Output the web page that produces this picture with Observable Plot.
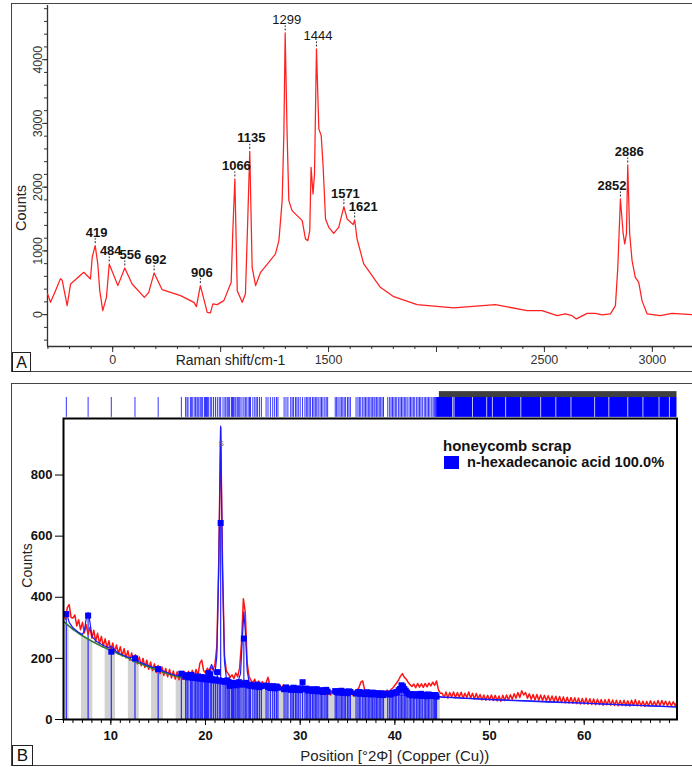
<!DOCTYPE html>
<html><head><meta charset="utf-8">
<script src="https://cdn.jsdelivr.net/npm/d3@7"></script>
<script src="https://cdn.jsdelivr.net/npm/@observablehq/plot@0.6"></script>
<style>
body{margin:0;background:#fff;font-family:"Liberation Sans",Arial,sans-serif;}
#root{position:relative;width:692px;height:767px;overflow:hidden;background:#fff;}
.panel{position:absolute;border:1.5px solid #444;box-sizing:border-box;}
.abs{position:absolute;}
.tag{position:absolute;border:1px solid #222;box-sizing:border-box;text-align:center;color:#111;background:#fff;}
.leg{position:absolute;font-weight:bold;color:#111;white-space:nowrap;line-height:1;}
</style></head>
<body><div id="root"></div>
<script>
// ---------------- Panel A : Raman spectrum ----------------
const ramanShift = [198, 212, 235, 258, 266, 289, 305, 366, 397, 405, 419, 431, 440, 454, 471, 484, 524, 556, 590, 647, 667, 692, 729, 814, 876, 888, 906, 922, 938, 953, 964, 984, 1015, 1049, 1056, 1066, 1077, 1100, 1115, 1126, 1135, 1146, 1162, 1185, 1223, 1254, 1270, 1285, 1293, 1299, 1308, 1316, 1331, 1378, 1393, 1404, 1413, 1419, 1428, 1435, 1444, 1455, 1466, 1475, 1486, 1501, 1524, 1547, 1571, 1586, 1614, 1621, 1632, 1663, 1740, 1802, 1910, 2080, 2273, 2420, 2489, 2559, 2597, 2628, 2648, 2698, 2736, 2767, 2806, 2829, 2840, 2852, 2865, 2872, 2880, 2886, 2895, 2906, 2921, 2937, 2952, 2976, 3037, 3091, 3186];
const ramanCounts = [330, 193, 376, 565, 540, 141, 481, 664, 560, 899, 1082, 795, 376, 63, 271, 795, 455, 732, 481, 271, 350, 654, 392, 298, 193, 125, 455, 246, 36, 27, 168, 157, 220, 507, 1266, 2129, 376, 193, 325, 1526, 2562, 742, 455, 664, 820, 952, 1161, 1788, 2835, 4419, 2835, 1788, 1631, 1475, 1187, 1161, 1318, 2311, 1893, 2207, 4168, 2913, 2808, 2311, 1501, 1370, 1275, 1370, 1694, 1501, 1412, 1485, 1187, 795, 428, 282, 157, 105, 157, 63, 63, -16, 11, -16, -67, 20, 20, -5, 11, 141, 742, 1815, 1266, 1109, 1266, 2348, 1266, 847, 585, 507, 220, 11, -16, 20, 0];
const ramanPeakShift = [419, 484, 556, 692, 906, 1066, 1135, 1299, 1444, 1571, 1621, 2852, 2886];
const ramanPeakCounts = [1082, 795, 732, 654, 455, 2129, 2562, 4419, 4168, 1694, 1485, 1815, 2348];
const ramanPeakLabels = ["419", "484", "556", "692", "906", "1066", "1135", "1299", "1444", "1571", "1621", "2852", "2886"];
const ramanXTicks = [500, 1500, 2500, 3000];
const ramanXTickLabels = ["0", "1500", "2500", "3000"];
const ramanYTicks = [0, 1000, 2000, 3000, 4000];
const ramanXTitle = "Raman shift/cm-1";
const ramanYTitle = "Counts";

// ---------------- Panel B : XRD pattern ----------------
const scanStart = 5, scanStep = 0.2;
const observedCounts = [
352,328,366,376,334, 332,342,306,326,294, 318,284,310,278,302, 266,292,256,282,248,
272,240,264,234,258, 224,250,220,244,214, 238,208,232,202,225, 194,218,190,212,182,
205,176,200,170,194, 164,188,160,182,154, 177,150,172,144,167, 140,164,136,159,132,
156,130,153,132,156, 134,158,135,161,137, 164,144,184,194,160, 152,168,156,170,162,
182,240,520,955,500, 210,158,150,138,146, 134,152,140,168,250, 395,350,185,140,128,
120,132,114,126,110, 124,108,120,138,112, 118,104,116,102,114, 100,113,98,110,96,
108,94,106,92,104, 96,110,92,104,88, 102,86,99,84,97, 88,100,84,96,82,
94,80,92,86,97, 82,94,80,91,78, 90,80,92,78,88, 96,104,122,126,98,
86,96,82,93,80, 92,79,90,81,94, 84,96,86,98,104, 112,120,130,142,150,
138,132,122,114,108, 116,104,118,106,117, 105,118,107,119,110, 122,112,126,98,86,
86,72,90,70,88, 74,90,71,88,73, 89,70,86,72,90, 70,86,67,85,68,
82,64,80,63,79, 64,80,62,79,61, 77,60,79,62,80, 64,81,66,84,70,
88,72,94,80,88, 70,84,66,82,64, 82,63,80,62,79, 61,78,60,77,59,
76,57,75,56,74, 55,73,54,72,53, 71,52,70,51,69, 51,70,50,68,49,
67,48,66,49,65, 47,65,48,66,47, 64,46,63,45,62, 46,63,45,61,44,
63,46,65,45,61, 44,60,43,59,44, 61,45,59,44,62, 46,62,47,60,45,
59,44,58,46,56];
const backgroundPos = [5, 5.5, 6, 6.5, 7, 7.5, 8, 8.5, 9, 9.5, 10, 10.5, 11, 11.5, 12, 12.5, 13, 13.5, 14, 14.5, 15, 15.5, 16, 16.5, 17, 17.5, 18, 19, 20, 21, 22, 23, 24, 25, 26, 27, 28, 29, 30, 32, 34, 36, 38, 40, 42, 44, 44.8, 46, 48, 50, 52, 54, 56, 58, 60, 62, 64, 66, 68, 69.8];
const backgroundCounts = [322, 308, 295, 284, 274, 265, 256, 248, 240, 233, 226, 219, 212, 206, 199, 190, 184, 178, 172, 166, 160, 155, 150, 145, 141, 137, 134, 128, 123, 119, 115, 112, 109, 106, 104, 102, 100, 98, 96, 92, 89, 86, 83, 80, 77, 74, 73, 71, 68, 65, 62, 60, 57, 55, 53, 50, 48, 46, 43, 41];
const calcPos = [5.0, 5.15, 5.35, 5.6, 6.0, 6.5, 7.0, 7.2, 7.4, 7.6, 7.8, 8.0, 8.5, 9.0, 9.5, 9.8, 10.0, 10.2, 10.6, 11.0, 11.5, 12.0, 12.3, 12.5, 12.7, 13.0, 13.5, 14.0, 14.5, 14.85, 15.1, 15.5, 16, 16.5, 17, 17.4, 17.6, 18, 19, 19.8, 20.2, 20.5, 20.65, 20.8, 21.0, 21.2, 21.4, 21.6, 21.8, 22.0, 22.2, 22.6, 23.0, 23.4, 23.7, 23.9, 24.05, 24.2, 24.4, 24.6, 25, 26, 27, 28, 29, 30, 30.25, 30.5, 32, 34, 36, 38, 40, 40.5, 41, 42, 44, 45, 50, 55, 60, 65, 69.8];
const calcCounts = [335, 352, 345, 318, 300, 287, 278, 290, 330, 350, 318, 272, 255, 246, 238, 236, 240, 234, 222, 215, 208, 202, 204, 208, 200, 188, 182, 176, 170, 172, 166, 159, 153, 148, 144, 148, 142, 138, 135, 133, 140, 170, 180, 165, 150, 210, 500, 960, 480, 190, 135, 124, 120, 122, 150, 270, 352, 290, 160, 122, 114, 110, 107, 104, 101, 99, 112, 100, 95, 92, 89, 86, 83, 95, 88, 80, 77, 74, 66, 60, 54, 47, 41];
const reflectionPos = [5.3, 7.6, 10.05, 12.55, 15.0, 17.45, 17.9, 18.05, 18.15, 18.4, 18.5, 18.6, 18.8, 18.95, 19.1, 19.2, 19.3, 19.45, 19.6, 19.7, 19.9, 20.0, 20.1, 20.2, 20.3, 20.5, 20.65, 20.85, 21.05, 21.25, 21.45, 21.6, 21.85, 22.05, 22.15, 22.3, 22.45, 22.55, 22.75, 22.85, 22.95, 23.1, 23.2, 23.35, 23.45, 23.55, 23.65, 23.85, 24.05, 24.2, 24.3, 24.5, 24.65, 24.75, 25.0, 25.2, 25.35, 25.5, 25.7, 25.9, 26.4, 26.6, 26.85, 27.1, 27.3, 27.5, 27.65, 28.3, 28.5, 28.7, 29.0, 29.15, 29.3, 29.5, 29.65, 29.8, 30.0, 30.25, 30.5, 30.65, 30.8, 30.95, 31.1, 31.3, 31.45, 31.6, 31.75, 31.9, 32.1, 32.25, 32.4, 32.6, 32.75, 32.9, 33.7, 33.85, 34.0, 34.2, 34.35, 34.5, 34.65, 34.8, 35.0, 35.15, 35.3, 35.9, 36.1, 36.25, 36.4, 36.6, 36.75, 36.9, 37.05, 37.2, 37.35, 37.5, 37.65, 37.8, 37.9, 38.05, 38.2, 38.35, 38.5, 38.65, 38.8, 39.25, 39.45, 39.6, 39.75, 39.9, 40.05, 40.2, 40.4, 40.55, 40.7, 40.85, 41.0, 41.15, 41.3, 41.5, 41.65, 41.8, 41.95, 42.1, 42.3, 42.45, 42.6, 42.75, 42.9, 43.1, 43.25, 43.4, 43.55, 43.7, 43.9, 44.05, 44.2, 44.3, 44.4];
const reflectionCounts = [345, 340, 222, 200, 165, 150, 140, 145, 138, 142, 146, 137, 140, 136, 139, 141, 134, 138, 139, 133, 135, 137, 131, 134, 152, 148, 132, 129, 131, 155, 128, 643, 126, 124, 126, 128, 122, 110, 116, 120, 114, 118, 112, 116, 120, 122, 118, 114, 265, 118, 120, 112, 114, 110, 112, 108, 110, 114, 106, 110, 111, 107, 103, 109, 102, 108, 104, 99, 105, 101, 97, 100, 104, 98, 97, 102, 96, 122, 100, 101, 95, 97, 99, 93, 95, 98, 99, 92, 96, 93, 90, 95, 97, 91, 93, 90, 88, 92, 94, 87, 88, 91, 86, 92, 90, 85, 89, 90, 84, 88, 86, 83, 89, 87, 84, 82, 88, 86, 84, 85, 81, 86, 82, 85, 80, 85, 82, 83, 87, 86, 88, 90, 96, 100, 112, 108, 100, 94, 88, 82, 83, 79, 81, 83, 78, 80, 82, 84, 77, 81, 79, 76, 82, 80, 77, 78, 79, 80, 75];
const grayRegionEnd = 44.8;
const grayGapStart = [5.6, 8.1, 10.5, 13.0, 15.55];
const grayGapEnd = [6.9, 9.4, 11.85, 14.3, 16.9];
const denseStickStart = 44.45, denseStickEnd = 69.8, blackStickStart = 44.7;
const denseStickGaps = [46.1, 46.25, 48.2, 49.7, 50.3, 51.7, 53.3, 55.4, 57.0, 58.6, 61.1, 62.6, 64.6, 66.2, 67.9, 69.0];
const xrdXTicks = [10, 20, 30, 40, 50, 60];
const xrdYTicks = [0, 200, 400, 600, 800];
const peakMarkPos = [21.65], peakMarkCounts = [905], peakMarkText = ["S"];
const xrdXTitle = "Position [°2Φ] (Copper (Cu))";
const xrdYTitle = "Counts";
const legendTitle = "honeycomb scrap";
const legendItem = "n-hexadecanoic acid 100.0%";

// ---------------- build ----------------
const root = document.getElementById("root");
const FONT = "Liberation Sans, Arial, sans-serif";
function place(el, left, top) { el.style.position = "absolute"; el.style.left = left + "px"; el.style.top = top + "px"; root.appendChild(el); return el; }
function div(cls, css, html) { const d = document.createElement("div"); d.className = cls; Object.assign(d.style, css); if (html != null) d.textContent = html; root.appendChild(d); return d; }

div("panel", {left: "11px", top: "3px", width: "720px", height: "369px"});
div("panel", {left: "11px", top: "383px", width: "720px", height: "383px"});

// Panel A plot
const axisCol = "#333";
const A = {w: 680, h: 367, ml: 35, mt: 1, mr: 0, mb: 25};
const xDomA = [198, 3186], yDomA = [-500, 4850];
const cpp = (yDomA[1] - yDomA[0]) / (A.h - A.mt - A.mb);
const raman = ramanShift.map((x, i) => ({x, y: ramanCounts[i]}));
const peaks = ramanPeakShift.map((x, i) => ({x, y: ramanPeakCounts[i], label: ramanPeakLabels[i]}));
const labelDx = {"556": 4, "1621": 7, "2852": -10};
const plainLabels = new Set(["1299", "1444"]);

const plotA = Plot.plot({
  width: A.w, height: A.h, marginTop: A.mt, marginLeft: A.ml, marginRight: A.mr, marginBottom: A.mb,
  x: {domain: xDomA}, y: {domain: yDomA},
  style: {fontFamily: FONT, background: "transparent", overflow: "visible"},
  marks: [
    Plot.axisX({ticks: d3.range(200, xDomA[1], 100), tickSize: 3, tickFormat: () => "", label: null, stroke: axisCol}),
    Plot.axisX({ticks: d3.range(500, xDomA[1], 500), tickSize: 6, tickFormat: () => "", label: null, stroke: axisCol}),
    Plot.axisY({ticks: d3.range(-400, yDomA[1], 200), tickSize: 3, tickFormat: () => "", label: null, stroke: axisCol}),
    Plot.axisY({ticks: ramanYTicks, tickSize: 5, tickFormat: () => "", label: null, stroke: axisCol}),
    Plot.ruleY([yDomA[0]], {stroke: axisCol, strokeWidth: 1.3}),
    Plot.ruleX([xDomA[0]], {stroke: axisCol, strokeWidth: 1.3}),
    Plot.text(ramanXTicks, {x: d => d, frameAnchor: "bottom", text: (d, i) => ramanXTickLabels[i], lineAnchor: "top", dy: 9, fontSize: 12.5, fill: "#333"}),
    Plot.text(ramanYTicks, {y: d => d, frameAnchor: "left", text: d => String(d), rotate: -90, textAnchor: "middle", lineAnchor: "middle", dx: -10, fontSize: 12.5, fill: "#333"}),
    Plot.text([ramanYTitle], {frameAnchor: "left", text: d => d, rotate: -90, textAnchor: "middle", lineAnchor: "middle", dx: -26, dy: 32, fontSize: 14.5, fill: "#222"}),
    Plot.text([ramanXTitle], {frameAnchor: "bottom-left", text: d => d, textAnchor: "middle", lineAnchor: "top", dx: 183, dy: 8.5, fontSize: 14, fill: "#222"}),
    Plot.line(raman, {x: "x", y: "y", stroke: "#ff2020", strokeWidth: 1.25}),
    Plot.ruleX(peaks, {x: "x", y1: d => d.y + 2 * cpp, y2: d => d.y + 7 * cpp, stroke: "#222", strokeWidth: 1, strokeDasharray: "2,1.5"}),
    ...peaks.map(p => Plot.text([p], {x: "x", y: "y", text: "label", lineAnchor: "bottom", dy: -9, dx: 1.5 + (labelDx[p.label] || 0), fontSize: 13, fontWeight: plainLabels.has(p.label) ? "normal" : "bold", fill: "#151515"}))
  ]
});
place(plotA, 12, 4);

// Panel B stick strip
const xDomB = [5, 69.8], yDomB = [0, 985];
const B = {w: 680, h: 381, ml: 51, mt: 34, mr: 15.5, mb: 46};
const stickLo = 0.04, stickHi = 0.75, blackHi = 0.96;
const strip = Plot.plot({
  width: B.w, height: 28, marginTop: 0, marginBottom: 0, marginLeft: B.ml, marginRight: B.mr,
  x: {domain: xDomB, axis: null}, y: {domain: [0, 1], axis: null},
  style: {background: "transparent", overflow: "visible"},
  marks: [
    Plot.ruleX(reflectionPos, {x: d => d, y1: stickLo, y2: stickHi, stroke: "#3434ff", strokeWidth: 1}),
    Plot.rect([0], {x1: () => denseStickStart, x2: () => denseStickEnd, y1: stickLo, y2: stickHi, fill: "#0000ff"}),
    Plot.ruleX(denseStickGaps, {x: d => d, y1: stickLo, y2: stickHi, stroke: "#fff", strokeWidth: 1, strokeOpacity: 0.75}),
    Plot.rect([0], {x1: () => blackStickStart, x2: () => denseStickEnd, y1: stickHi, y2: blackHi, fill: "#2a2a2a", fillOpacity: 0.9})
  ]
});
place(strip, 12, 390);

// Panel B main plot
const observed = observedCounts.map((y, i) => ({x: scanStart + i * scanStep, y}));
const background = backgroundPos.map((x, i) => ({x, y: backgroundCounts[i]}));
const calc = calcPos.map((x, i) => ({x, y: calcCounts[i]}));
const refl = reflectionPos.map((x, i) => ({x, y: reflectionCounts[i]}));
const gaps = grayGapStart.map((x1, i) => ({x1, x2: grayGapEnd[i]}));
const greenEnd = 17.5;
const plotB = Plot.plot({
  width: B.w, height: B.h, marginTop: B.mt, marginLeft: B.ml, marginRight: B.mr, marginBottom: B.mb,
  x: {domain: xDomB}, y: {domain: yDomB},
  style: {fontFamily: FONT, background: "transparent", overflow: "visible"},
  marks: [
    Plot.areaY(background.filter(d => d.x <= grayRegionEnd), {x: "x", y: "y", fill: "#d2d2d2"}),
    Plot.rect(gaps, {x1: "x1", x2: "x2", y1: () => yDomB[0], y2: () => yDomB[1], fill: "#fff"}),
    Plot.ruleX(refl, {x: "x", y1: 0, y2: "y", stroke: "#2a2aff", strokeWidth: 1.2}),
    Plot.line(observed, {x: "x", y: "y", stroke: "#ff1414", strokeWidth: 1.5}),
    Plot.line(background.filter(d => d.x <= greenEnd), {x: "x", y: "y", stroke: "#2e7d32", strokeWidth: 1.6}),
    Plot.line(background.filter(d => d.x >= greenEnd), {x: "x", y: "y", stroke: "#2222ff", strokeWidth: 1.1}),
    Plot.line(calc, {x: "x", y: "y", stroke: "#1a1aff", strokeWidth: 1.2}),
    Plot.dot(refl, {x: "x", y: "y", symbol: "square", r: 3.4, fill: "#0000ff", stroke: null}),
    Plot.text(peakMarkPos, {x: d => d, y: (d, i) => peakMarkCounts[i], text: (d, i) => peakMarkText[i], fontSize: 8, fill: "#666"}),
    Plot.axisX({ticks: d3.range(5, 70, 1), tickSize: 4, tickFormat: () => "", label: null, stroke: "#000"}),
    Plot.axisX({ticks: xrdXTicks, tickSize: 6, tickFormat: () => "", label: null, stroke: "#000"}),
    Plot.axisY({ticks: xrdYTicks, tickSize: 8, tickFormat: () => "", label: null, stroke: "#000"}),
    Plot.frame({stroke: "#000", strokeWidth: 2}),
    Plot.text(xrdXTicks, {x: d => d, frameAnchor: "bottom", text: d => String(d), lineAnchor: "top", dy: 11, fontSize: 13, fontWeight: "bold", fill: "#111"}),
    Plot.text(xrdYTicks, {y: d => d, frameAnchor: "left", text: d => String(d), textAnchor: "end", lineAnchor: "middle", dx: -11, fontSize: 13, fontWeight: "bold", fill: "#111"}),
    Plot.text([xrdYTitle], {frameAnchor: "left", text: d => d, rotate: -90, textAnchor: "middle", lineAnchor: "middle", dx: -35.5, dy: -3.5, fontSize: 14, fill: "#222"}),
    Plot.text([xrdXTitle], {frameAnchor: "bottom", text: d => d, textAnchor: "middle", lineAnchor: "top", dx: 24.5, dy: 31, fontSize: 15, fill: "#222"})
  ]
});
place(plotB, 12, 384);

// Legend (inside plot frame B)
div("leg", {left: "443px", top: "437.5px", fontSize: "15px"}, legendTitle);
div("abs", {left: "444px", top: "456px", width: "15px", height: "13px", background: "#0000ff"});
div("leg", {left: "467px", top: "454.5px", fontSize: "14.6px"}, legendItem);

// Panel tags
div("tag", {left: "12px", top: "352px", width: "19px", height: "20px", fontSize: "16px", lineHeight: "19px"}, "A");
div("tag", {left: "12px", top: "745px", width: "21px", height: "21px", fontSize: "17px", lineHeight: "20px"}, "B");
</script>
</body></html>
